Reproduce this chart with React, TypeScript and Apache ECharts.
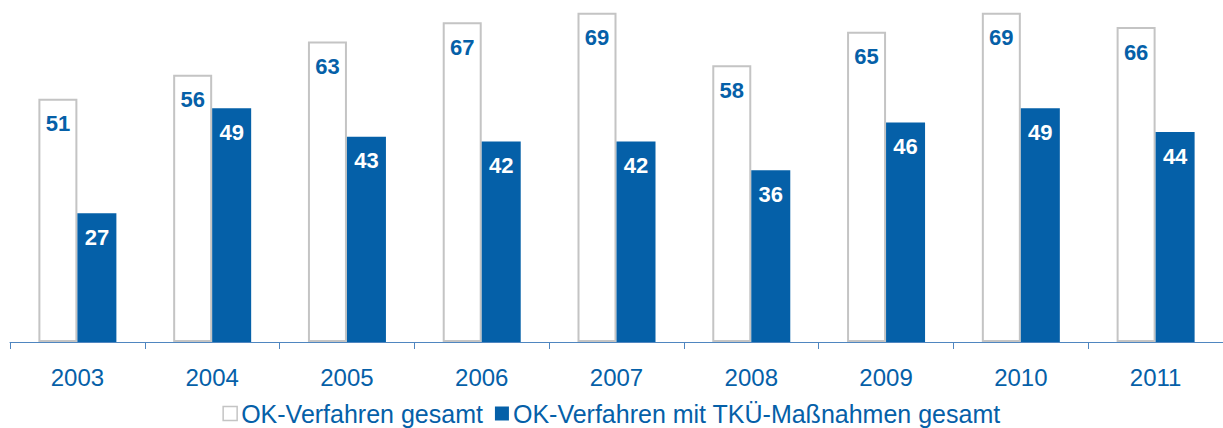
import React, { useEffect, useRef } from "react";
import * as echarts from "echarts";

const years = ["2003", "2004", "2005", "2006", "2007", "2008", "2009", "2010", "2011"];
const okTotal = [51, 56, 63, 67, 69, 58, 65, 69, 66];
const okTku = [27, 49, 43, 42, 42, 36, 46, 49, 44];
const seriesNames = ["OK-Verfahren gesamt", "OK-Verfahren mit TKÜ-Maßnahmen gesamt"];

const BLUE = "#0560a8";
const FONT = "'Liberation Sans', Arial, sans-serif";

export default function App() {
  const ref = useRef<HTMLDivElement>(null);
  useEffect(() => {
    document.body.style.margin = "0";
    const chart = echarts.init(ref.current!, null, { renderer: "svg" });
    chart.setOption({
      animation: false,
      backgroundColor: "#ffffff",
      grid: { left: 10, right: 0, top: 8, bottom: 86 },
      legend: {
        bottom: 2,
        left: "center",
        padding: 0,
        itemWidth: 14,
        itemHeight: 14,
        itemGap: 12,
        textStyle: { color: BLUE, fontSize: 25, fontFamily: FONT, padding: [0, 0, 0, -1] },
        data: [
          { name: seriesNames[0], icon: "rect", itemStyle: { color: "#ffffff", borderColor: "#c4c4c4", borderWidth: 1.5 } },
          { name: seriesNames[1], icon: "rect", itemStyle: { color: BLUE } },
        ],
      },
      xAxis: {
        type: "category",
        data: years,
        axisLine: { lineStyle: { color: "#4f86c0", width: 1 } },
        axisTick: { show: true, length: 7, lineStyle: { color: "#4f86c0" } },
        axisLabel: { color: BLUE, fontSize: 24, fontFamily: FONT, margin: 23 },
      },
      yAxis: { type: "value", min: 0, max: 70, show: false, splitLine: { show: false } },
      series: [
        {
          name: seriesNames[0],
          type: "bar",
          data: okTotal,
          barWidth: 39,
          barGap: "0%",
          itemStyle: { color: "#ffffff", borderColor: "#c4c4c4", borderWidth: 2 },
          label: {
            show: true,
            position: "insideTop",
            distance: 14,
            color: BLUE,
            fontSize: 22,
            fontWeight: "bold",
            fontFamily: FONT,
          },
        },
        {
          name: seriesNames[1],
          type: "bar",
          data: okTku,
          barWidth: 39,
          itemStyle: { color: BLUE },
          label: {
            show: true,
            position: "insideTop",
            distance: 13,
            color: "#ffffff",
            fontSize: 22,
            fontWeight: "bold",
            fontFamily: FONT,
          },
        },
      ],
    });
    return () => chart.dispose();
  }, []);
  return <div ref={ref} style={{ width: 1223, height: 428 }} />;
}
